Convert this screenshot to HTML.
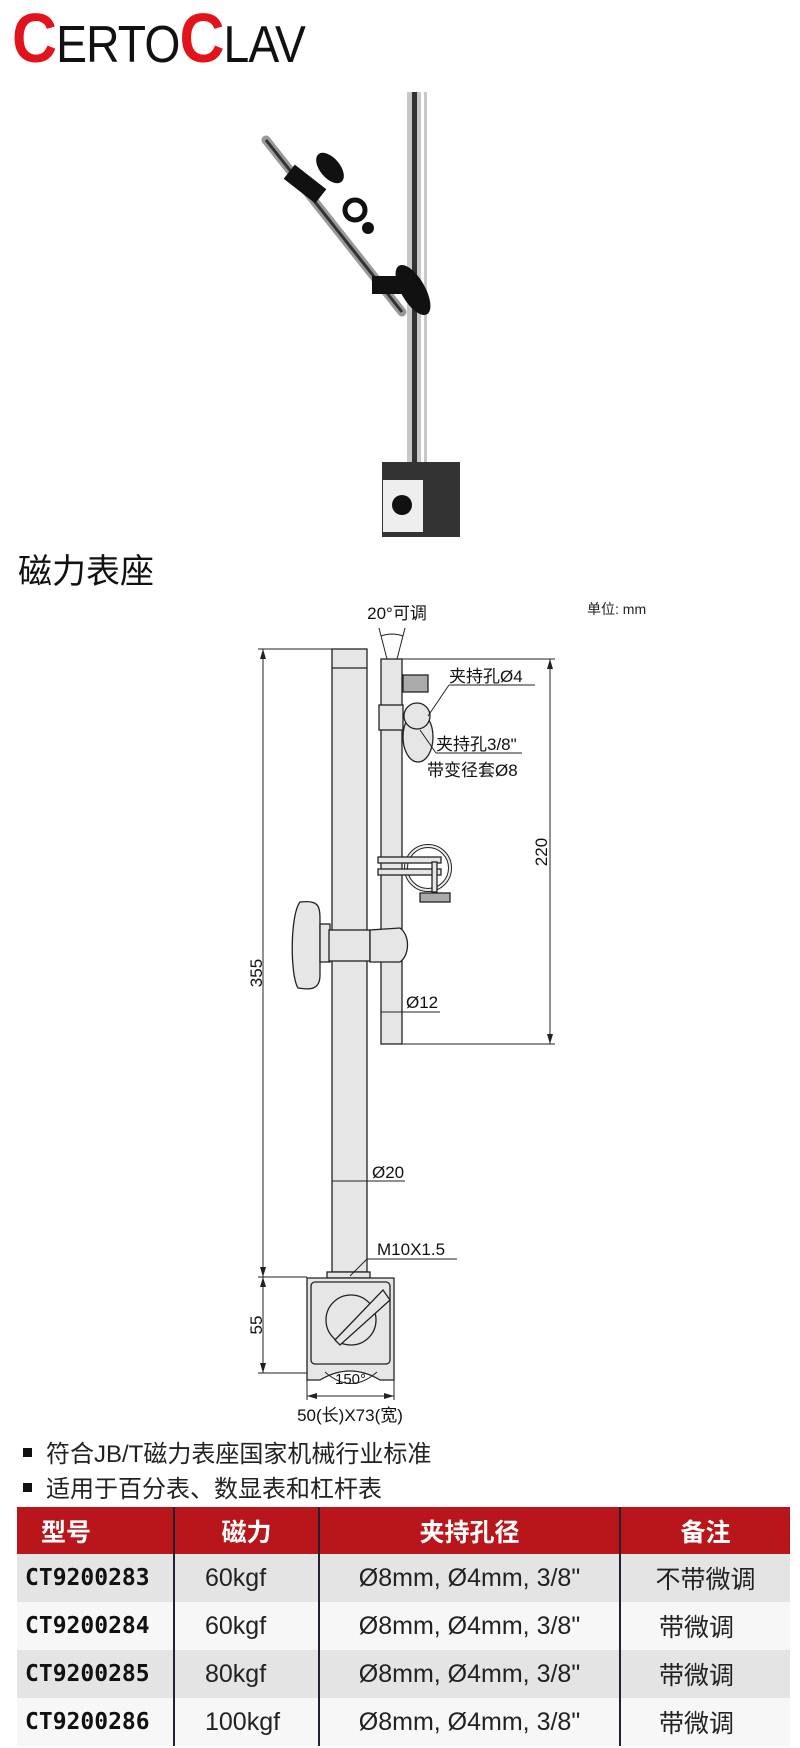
<!DOCTYPE html>
<html><head><meta charset="utf-8"><style>
body{margin:0;width:800px;height:1748px;background:#fff;position:relative;overflow:hidden;font-family:"Liberation Sans","Noto Sans CJK SC",sans-serif}
.a{position:absolute}
table{position:absolute;left:17px;top:1507px;width:773px;border-collapse:collapse;table-layout:fixed}
td{box-sizing:border-box;height:48px;text-align:center;font-size:25px;color:#222;padding:0;border-left:2px solid #223;border-right:2px solid #223;white-space:nowrap;overflow:hidden}
td:first-child{border-left:none}td:last-child{border-right:none}
tr.h td{background:#b8161a;color:#fff;font-weight:bold;font-size:25px;height:47px}
tr.g td{background:#e4e4e4}tr.w td{background:#f7f7f7}
td.m{font-family:"DejaVu Sans Mono","Liberation Mono",monospace;font-weight:bold;font-size:23px;color:#111;text-align:left;padding-left:8px}
td.k{text-align:left;padding-left:30px}
td.d{text-align:left;padding-left:38px}
</style></head><body>
<div class="a" style="left:12px;top:2px;font-size:70px;line-height:72px;color:#111;transform:scaleX(0.89);transform-origin:left;letter-spacing:-1px;white-space:nowrap"><span style="color:#e2131b;font-weight:bold">C</span><span style="font-size:52px">ERTO</span><span style="color:#e2131b;font-weight:bold">C</span><span style="font-size:52px">LAV</span></div>
<svg class="a" style="left:0;top:0" width="800" height="1500">
<rect x="407" y="92" width="20" height="372" fill="#c8c8c8"/><rect x="412" y="92" width="5" height="372" fill="#333"/><rect x="421" y="92" width="3" height="372" fill="#fff"/>
<line x1="266" y1="140" x2="402" y2="312" stroke="#999" stroke-width="9" stroke-linecap="round"/>
<line x1="266" y1="140" x2="402" y2="312" stroke="#333" stroke-width="3"/>
<ellipse cx="330" cy="168" rx="10" ry="18" transform="rotate(-40 330 168)" fill="#111"/>
<rect x="285" y="175" width="40" height="18" transform="rotate(38 305 184)" fill="#111"/>
<circle cx="355" cy="210" r="10" fill="none" stroke="#111" stroke-width="5"/><circle cx="368" cy="228" r="6" fill="#111"/>
<ellipse cx="413" cy="290" rx="12" ry="28" transform="rotate(-30 413 290)" fill="#111"/><rect x="372" y="276" width="32" height="18" fill="#111"/>
<rect x="382" y="462" width="78" height="75" fill="#333"/><rect x="383" y="480" width="40" height="52" fill="#eee"/><circle cx="402" cy="505" r="10" fill="#111"/>
<text x="18" y="583" font-size="34" fill="#111">磁力表座</text>
<text x="587" y="614" font-size="14" fill="#222">单位: mm</text>
<g stroke="#222" stroke-width="1.3" fill="#e6e6e6">
<rect x="332" y="649" width="35" height="623"/><line x1="332" y1="668" x2="367" y2="668"/>
<rect x="381" y="659" width="21" height="385"/>
<rect x="403" y="675" width="25" height="17" fill="#aaa"/>
<ellipse cx="418" cy="737" rx="15" ry="25"/>
<rect x="379" y="705" width="24" height="25"/><circle cx="417" cy="716" r="13"/>
<circle cx="428" cy="868" r="22" fill="none" stroke-width="4"/><circle cx="428" cy="868" r="22" fill="none" stroke="#eee" stroke-width="2"/>
<rect x="378" y="857" width="63" height="6"/><rect x="378" y="869" width="63" height="6"/>
<rect x="432" y="862" width="5" height="30"/><rect x="420" y="893" width="30" height="9" fill="#aaa"/>
<path d="M300 902 C318 900 320 905 320 920 L320 975 C320 990 310 990 298 988 C290 975 290 915 300 902Z"/>
<rect x="320" y="924" width="10" height="38"/><rect x="329" y="930" width="41" height="31"/>
<path d="M370 930 L400 928 C410 935 410 955 400 962 L370 962Z"/>
<rect x="327" y="1272" width="43" height="6"/>
<path d="M307 1278 L394 1278 L394 1380 L380 1380 C360 1368 340 1368 320 1380 L307 1380Z"/>
<rect x="311" y="1282" width="79" height="82" rx="4"/>
<circle cx="351" cy="1320" r="25"/>
<path d="M335 1340 L383 1290 L390 1300 L340 1345Z"/>
</g>
<g stroke="#222" stroke-width="1" fill="none">
<line x1="263" y1="649" x2="263" y2="1373"/><line x1="258" y1="649" x2="332" y2="649"/><line x1="258" y1="1277" x2="307" y2="1277"/><line x1="258" y1="1373" x2="307" y2="1373"/>
<line x1="550" y1="659" x2="550" y2="1044"/><line x1="402" y1="659" x2="555" y2="659"/><line x1="402" y1="1044" x2="555" y2="1044"/>
<line x1="379" y1="628" x2="387" y2="659"/><line x1="405" y1="628" x2="397" y2="659"/><path d="M381 636 Q392 632 403 636"/>
<path d="M449 685 L535 685 M449 685 L428 716"/><path d="M436 753 L522 753 M436 753 L420 730"/>
<path d="M381 1012 L440 1012"/><path d="M332 1181 L405 1181"/><path d="M350 1276 L367 1259 L457 1259"/>
<line x1="307" y1="1380" x2="307" y2="1400"/><line x1="394" y1="1380" x2="394" y2="1400"/><line x1="307" y1="1396" x2="394" y2="1396"/>
<path d="M325 1372 Q351 1395 377 1372"/>
</g>
<g fill="#222">
<path d="M263 649 l-3 10 h6z M263 1277 l-3 -10 h6z M263 1277 l-3 10 h6z M263 1373 l-3 -10 h6z M550 659 l-3 10 h6z M550 1044 l-3 -10 h6z M307 1396 l10 -3 v6z M394 1396 l-10 -3 v6z"/>
</g>
<g font-size="17" fill="#111">
<text x="397" y="619" text-anchor="middle">20°可调</text>
<text x="449" y="682">夹持孔Ø4</text>
<text x="436" y="750">夹持孔3/8"</text>
<text x="427" y="776">带变径套Ø8</text>
<text x="406" y="1008">Ø12</text>
<text x="372" y="1178">Ø20</text>
<text x="377" y="1255">M10X1.5</text>
<text x="335" y="1384" font-size="15">150°</text>
<text x="350" y="1421" text-anchor="middle">50(长)X73(宽)</text>
<text transform="translate(547 852) rotate(-90)" text-anchor="middle">220</text>
<text transform="translate(262 973) rotate(-90)" text-anchor="middle">355</text>
<text transform="translate(262 1325) rotate(-90)" text-anchor="middle">55</text>
</g>
<rect x="23" y="1448" width="9" height="9" fill="#111"/><rect x="23" y="1483" width="9" height="9" fill="#111"/>
<text x="46" y="1462" font-size="24" fill="#222">符合JB/T磁力表座国家机械行业标准</text>
<text x="46" y="1497" font-size="24" fill="#222">适用于百分表、数显表和杠杆表</text>
</svg>
<table>
<colgroup><col style="width:157px"><col style="width:145px"><col style="width:301px"><col style="width:170px"></colgroup>
<tr class="h"><td style="text-align:left;padding-left:24px">型号</td><td>磁力</td><td>夹持孔径</td><td>备注</td></tr>
<tr class="g"><td class="m">CT9200283</td><td class="k">60kgf</td><td>Ø8mm, Ø4mm, 3/8"</td><td>不带微调</td></tr>
<tr class="w"><td class="m">CT9200284</td><td class="k">60kgf</td><td>Ø8mm, Ø4mm, 3/8"</td><td class="d">带微调</td></tr>
<tr class="g"><td class="m">CT9200285</td><td class="k">80kgf</td><td>Ø8mm, Ø4mm, 3/8"</td><td class="d">带微调</td></tr>
<tr class="w"><td class="m">CT9200286</td><td class="k">100kgf</td><td>Ø8mm, Ø4mm, 3/8"</td><td class="d">带微调</td></tr>
</table>
</body></html>
